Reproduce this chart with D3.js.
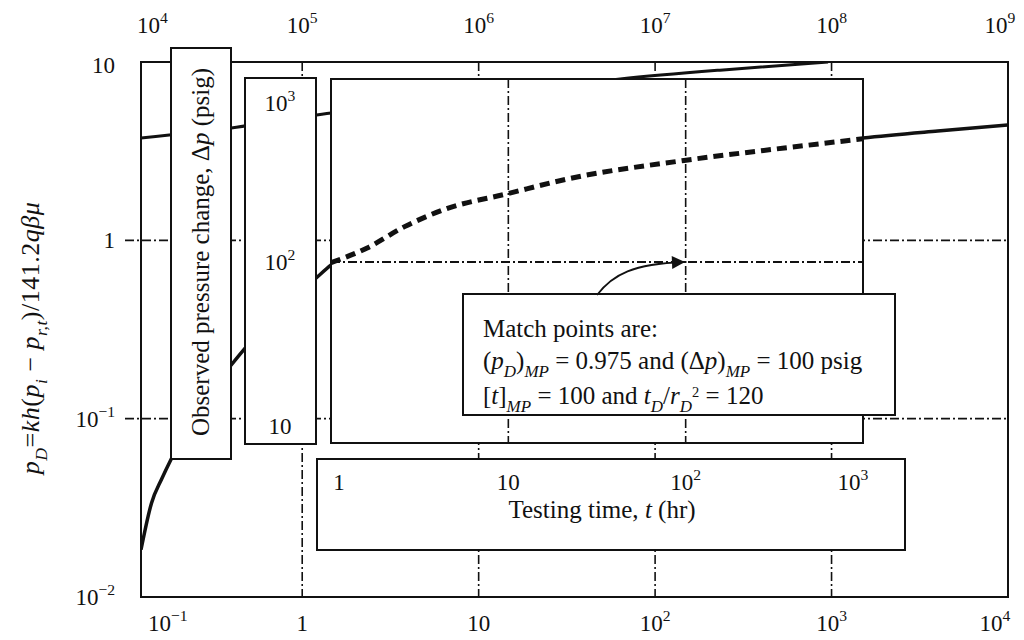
<!DOCTYPE html>
<html>
<head>
<meta charset="utf-8">
<title>Type curve match</title>
<style>
body { margin: 0; background: #fff; }
text { font-family: "Liberation Serif", "DejaVu Serif", serif; fill: #111; }
</style>
</head>
<body>
<script src="https://cdnjs.cloudflare.com/ajax/libs/d3/7.8.5/d3.min.js"></script>
<script>
'use strict'

const W = 1024
const H = 640

// main axes: tD/rD^2 (bottom), tD (top), pD (left)
const bottomTicks = [0.1, 1, 10, 100, 1000, 10000]
const bottomLabels = [['10', '−1'], ['1', ''], ['10', ''], ['10', '2'], ['10', '3'], ['10', '4']]
const topTicks = [1e4, 1e5, 1e6, 1e7, 1e8, 1e9]
const topLabels = [['10', '4'], ['10', '5'], ['10', '6'], ['10', '7'], ['10', '8'], ['10', '9']]
const leftTicks = [10, 1, 0.1, 0.01]
const leftLabels = [['10', ''], ['1', ''], ['10', '−1'], ['10', '−2']]
const gridT = [1, 10, 100, 1000]
const gridPD = [1, 0.1]

// type curves (tD/rD^2, pD)
const typeT = [0.122, 0.14, 0.16, 0.181, 0.25, 0.396, 0.475, 0.7, 1.2, 1.46, 3, 14.5, 50, 146, 500, 1507, 4000, 10000]
const typePD = [0.0184, 0.0337, 0.046, 0.0594, 0.105, 0.2, 0.249, 0.38, 0.615, 0.728, 1.0, 1.73, 2.3, 2.75, 3.3, 3.75, 4.1, 4.43]
const upperT = [0.122, 0.396, 1.46, 6.9, 63.4, 233, 955]
const upperPD = [3.75, 4.27, 5.18, 6.12, 8.03, 9.0, 10]

// overlay (tracing paper): observed data, t in hr, dp in psig
const obsT = [1, 1.6, 2.6, 4.4, 9.9, 22, 98, 360, 1000]
const obsDp = [99, 120, 158, 198, 242, 294, 372, 437, 492]
const overlayTTicks = [1, 10, 100, 1000]
const overlayTLabels = [['1', ''], ['10', ''], ['10', '2'], ['10', '3']]
const overlayDpTicks = [1000, 100, 10]
const overlayDpLabels = [['10', '3'], ['10', '2'], ['10', '']]
const overlayGridT = [10, 100]
const overlayGridDp = [100]

// match point
const mpPD = 0.975
const mpDp = 100
const mpT = 100
const mpTD = 120

const svg = d3.select('body').append('svg')
  .attr('width', W)
  .attr('height', H)

// scales
const x = d3.scaleLog().domain([0.122, 1e4]).range([141, 1008])
const xTop = d3.scaleLog().domain([0.122e5, 1e9]).range(x.range())
const y = d3.scaleLog().domain([0.01, 10]).range([597, 62])
const xo = d3.scaleLog().domain([1, 1000]).range([331, 863])
const yo = d3.scaleLog().domain([10, 1000]).range([440, 84])

const [fx0, fx1] = x.range()
const [fy1, fy0] = y.range()

// clip paths
const defs = svg.append('defs')
defs.append('clipPath').attr('id', 'frameClip')
  .append('rect').attr('x', fx0).attr('y', fy0).attr('width', fx1 - fx0).attr('height', fy1 - fy0)
const innerBox = { x0: xo(1), x1: xo(1000), y0: 79, y1: 443 }
defs.append('clipPath').attr('id', 'innerClip')
  .append('rect').attr('x', innerBox.x0).attr('y', innerBox.y0)
  .attr('width', innerBox.x1 - innerBox.x0).attr('height', innerBox.y1 - innerBox.y0)
defs.append('marker').attr('id', 'arrow')
  .attr('viewBox', '0 0 10 10').attr('refX', 9).attr('refY', 5)
  .attr('markerUnits', 'userSpaceOnUse').attr('markerWidth', 18).attr('markerHeight', 13)
  .attr('orient', 'auto')
  .append('path').attr('d', 'M0,0 L10,5 L0,10 z').attr('fill', '#111')

const dashDot = '9,3,2,3'

// helper: text with sub/superscripts
function rich(sel, parts, size) {
  let shift = 0
  parts.forEach(p => {
    const target = p.sub ? size * 0.3 : p.sup ? -size * (p.lo ? 0.3 : 0.42) : 0
    const ts = sel.append('tspan').text(p.t).attr('dy', target - shift)
    if (p.i) ts.attr('font-style', 'italic')
    if (p.sub || p.sup) ts.attr('font-size', size * (p.lo ? 0.58 : 0.68))
    if (p.dx) ts.attr('dx', p.dx)
    shift = target
  })
  return sel
}

function powLabel(g, px, py, lab, anchor, size) {
  const t = g.append('text')
    .attr('x', px).attr('y', py)
    .attr('text-anchor', anchor)
    .attr('font-size', size)
  const parts = [{ t: lab[0] }]
  if (lab[1]) parts.push({ t: lab[1], sup: true })
  return rich(t, parts, size)
}

// main grid (dash-dot)
svg.append('g').selectAll('line')
  .data(gridT)
  .enter().append('line')
  .attr('x1', d => x(d)).attr('x2', d => x(d))
  .attr('y1', fy0).attr('y2', fy1)
  .attr('stroke', '#111').attr('stroke-width', 1.6)
  .attr('stroke-dasharray', dashDot)

svg.append('g').selectAll('line')
  .data(gridPD)
  .enter().append('line')
  .attr('x1', fx0 - 16).attr('x2', fx1)
  .attr('y1', d => y(d)).attr('y2', d => y(d))
  .attr('stroke', '#111').attr('stroke-width', 1.6)
  .attr('stroke-dasharray', dashDot)

// frame
svg.append('rect')
  .attr('x', fx0).attr('y', fy0)
  .attr('width', fx1 - fx0).attr('height', fy1 - fy0)
  .attr('fill', 'none').attr('stroke', '#111').attr('stroke-width', 2)

// type curves
const mainLine = d3.line()
  .x(d => x(d[0]))
  .y(d => y(d[1]))
  .curve(d3.curveMonotoneX)

svg.append('path')
  .datum(d3.zip(typeT, typePD))
  .attr('d', mainLine)
  .attr('clip-path', 'url(#frameClip)')
  .attr('fill', 'none').attr('stroke', '#111').attr('stroke-width', 3.5)

svg.append('path')
  .datum(d3.zip(upperT, upperPD))
  .attr('d', mainLine)
  .attr('clip-path', 'url(#frameClip)')
  .attr('fill', 'none').attr('stroke', '#111').attr('stroke-width', 3)

// white overlay boxes
const boxes = [
  { x0: 171, x1: 231, y0: 48, y1: 459 },                      // dp title
  { x0: 245, x1: 316, y0: innerBox.y0 - 1, y1: innerBox.y1 + 1 }, // dp ticks
  innerBox,                                                   // data area
  { x0: 317, x1: 905, y0: 459, y1: 550 }                      // time axis
]
svg.append('g').selectAll('rect')
  .data(boxes)
  .enter().append('rect')
  .attr('x', d => d.x0).attr('y', d => d.y0)
  .attr('width', d => d.x1 - d.x0).attr('height', d => d.y1 - d.y0)
  .attr('fill', '#fff').attr('stroke', '#111').attr('stroke-width', 2)

// overlay grid
const og = svg.append('g').attr('clip-path', 'url(#innerClip)')
og.selectAll('line.v')
  .data(overlayGridT)
  .enter().append('line')
  .attr('x1', d => xo(d)).attr('x2', d => xo(d))
  .attr('y1', innerBox.y0).attr('y2', innerBox.y1)
  .attr('stroke', '#111').attr('stroke-width', 1.6)
  .attr('stroke-dasharray', dashDot)
og.selectAll('line.h')
  .data(overlayGridDp)
  .enter().append('line')
  .attr('x1', innerBox.x0).attr('x2', innerBox.x1)
  .attr('y1', d => yo(d)).attr('y2', d => yo(d))
  .attr('stroke', '#111').attr('stroke-width', 1.8)
  .attr('stroke-dasharray', dashDot)

// observed data (dashed)
const obsLine = d3.line()
  .x(d => xo(d[0]))
  .y(d => yo(d[1]))
  .curve(d3.curveMonotoneX)
og.append('path')
  .datum(d3.zip(obsT, obsDp))
  .attr('d', obsLine)
  .attr('fill', 'none').attr('stroke', '#111').attr('stroke-width', 5)
  .attr('stroke-dasharray', '10,6')

// match box
const mb = { x0: 463, x1: 895, y0: 294, y1: 415 }
svg.append('rect')
  .attr('x', mb.x0).attr('y', mb.y0)
  .attr('width', mb.x1 - mb.x0).attr('height', mb.y1 - mb.y0)
  .attr('fill', '#fff').attr('stroke', '#111').attr('stroke-width', 2)

const fs = 25
svg.append('text').attr('x', mb.x0 + 20).attr('y', mb.y0 + 43).attr('font-size', fs)
  .text('Match points are:')
rich(svg.append('text').attr('x', mb.x0 + 20).attr('y', mb.y0 + 75).attr('font-size', fs), [
  { t: '(' }, { t: 'p', i: 1 }, { t: 'D', i: 1, sub: 1 }, { t: ')' }, { t: 'MP', i: 1, sub: 1 },
  { t: ' = ' + mpPD + ' and (Δ' }, { t: 'p', i: 1 }, { t: ')' }, { t: 'MP', i: 1, sub: 1 },
  { t: ' = ' + mpDp + ' psig' }
], fs)
rich(svg.append('text').attr('x', mb.x0 + 20).attr('y', mb.y0 + 110).attr('font-size', fs), [
  { t: '[' }, { t: 't', i: 1 }, { t: ']' }, { t: 'MP', i: 1, sub: 1 },
  { t: ' = ' + mpT + ' and ' }, { t: 't', i: 1 }, { t: 'D', i: 1, sub: 1 }, { t: '/' },
  { t: 'r', i: 1 }, { t: 'D', i: 1, sub: 1 }, { t: '2', sup: 1, lo: 1 }, { t: ' = ' + mpTD }
], fs)

// arrow to match point
const ax = xo(mpT) - 2
const ay = yo(mpDp)
svg.append('path')
  .attr('d', `M${mb.x0 + 134},${mb.y0 + 1} C${mb.x0 + 150},${ay + 12} ${ax - 50},${ay + 2} ${ax},${ay}`)
  .attr('fill', 'none').attr('stroke', '#111').attr('stroke-width', 1.8)
  .attr('marker-end', 'url(#arrow)')

// main axis labels
const tickSize = 23
const gb = svg.append('g')
bottomTicks.forEach((v, i) => {
  if (v < x.domain()[0]) powLabel(gb, fx0 + 7, 631, bottomLabels[i], 'start', tickSize)
  else powLabel(gb, Math.min(x(v), fx1 - 13), 631, bottomLabels[i], 'middle', tickSize)
})
topTicks.forEach((v, i) => {
  if (v < xTop.domain()[0]) powLabel(gb, fx0 - 4, 33, topLabels[i], 'start', tickSize)
  else powLabel(gb, Math.min(xTop(v), fx1 - 8), 33, topLabels[i], 'middle', tickSize)
})
leftTicks.forEach((v, i) => {
  powLabel(gb, 115, y(v) + 8 + (v === 10 ? 3 : 0), leftLabels[i], 'end', tickSize)
})

// overlay axis labels
overlayDpTicks.forEach((v, i) => {
  const py = Math.min(Math.max(yo(v), innerBox.y0 + 24), innerBox.y1 - 17)
  powLabel(gb, 280, py + 8, overlayDpLabels[i], 'middle', tickSize)
})
overlayTTicks.forEach((v, i) => {
  const px = Math.min(Math.max(xo(v), innerBox.x0 + 8), innerBox.x1 - 10)
  powLabel(gb, px, 490, overlayTLabels[i], 'middle', tickSize)
})

// axis titles
svg.append('text')
  .attr('x', 602).attr('y', 518)
  .attr('text-anchor', 'middle').attr('font-size', fs)
  .call(s => rich(s, [{ t: 'Testing time, ' }, { t: 't', i: 1 }, { t: ' (hr)' }], fs))

svg.append('text')
  .attr('transform', 'translate(209,252) rotate(-90)')
  .attr('text-anchor', 'middle').attr('font-size', fs)
  .call(s => rich(s, [{ t: 'Observed pressure change, Δ' }, { t: 'p', i: 1 }, { t: ' (psig)' }], fs))

const ts = 26
svg.append('text')
  .attr('transform', 'translate(39,338) rotate(-90)')
  .attr('text-anchor', 'middle').attr('font-size', ts)
  .attr('letter-spacing', 0.5)
  .call(s => rich(s, [
    { t: 'p', i: 1 }, { t: 'D', i: 1, sub: 1 }, { t: '=' }, { t: 'kh', i: 1 }, { t: '(' },
    { t: 'p', i: 1 }, { t: 'i', i: 1, sub: 1 }, { t: ' − ' }, { t: 'p', i: 1 }, { t: 'r,t', i: 1, sub: 1 },
    { t: ')/141.2' }, { t: 'qβμ', i: 1 }
  ], ts))
</script>
</body>
</html>
